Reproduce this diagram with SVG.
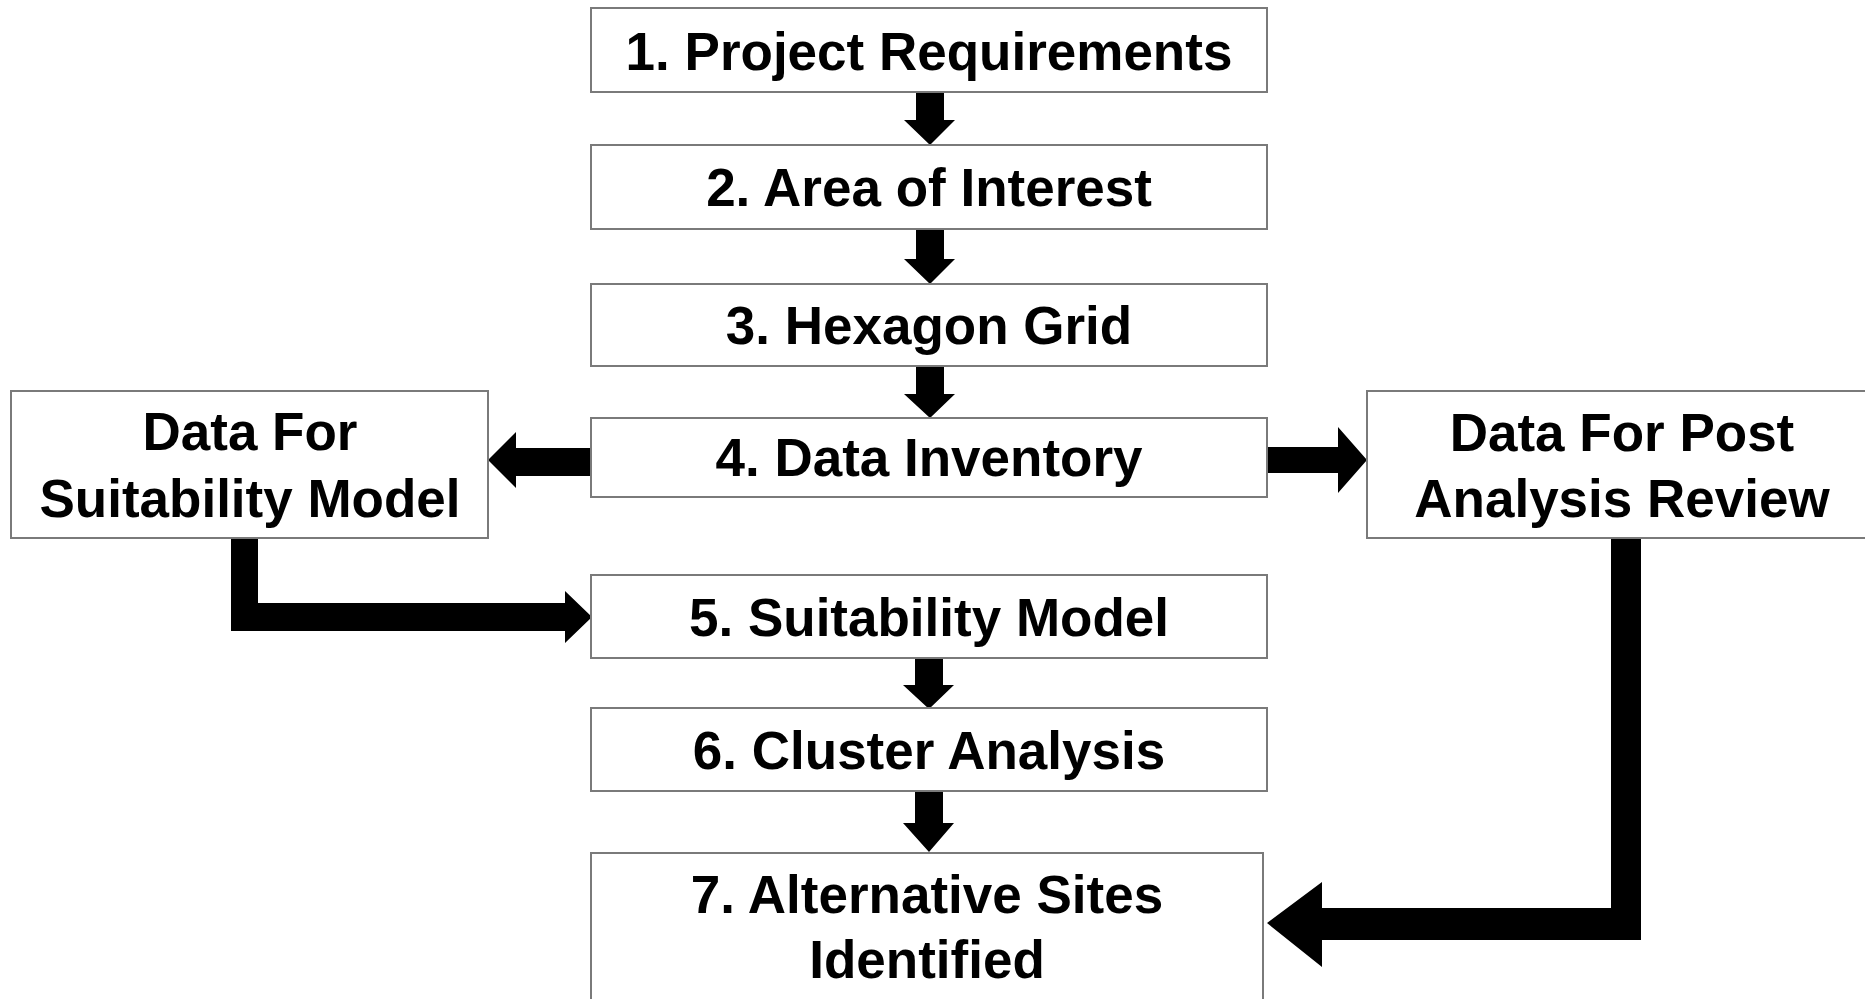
<svg xmlns="http://www.w3.org/2000/svg" width="1865" height="999" viewBox="0 0 1865 999">
<style>
.box{fill:#fff;stroke:#7a7a7a;stroke-width:2}
.lbl{font-family:"Liberation Sans",Arial,sans-serif;font-weight:bold;font-size:53px;fill:#000;text-anchor:middle}
.arr{fill:#000;stroke:none}
</style>
<rect width="1865" height="999" fill="#fff"/>
<g id="connectors">
<polygon class="arr" points="916,92 944,92 944,120 955,120 930,145 904,120 916,120"/>
<polygon class="arr" points="916,229 944,229 944,259 955,259 930,284 904,259 916,259"/>
<polygon class="arr" points="916,366 944,366 944,394 955,394 930,418 904,394 916,394"/>
<polygon class="arr" points="915,658 943,658 943,685 954,685 929,709 903,685 915,685"/>
<polygon class="arr" points="915,791 943,791 943,823 954,823 929,852 903,823 915,823"/>
<polygon class="arr" points="591,448 516,448 516,432 488,460 516,488 516,476 591,476"/>
<polygon class="arr" points="1267,447 1338,447 1338,427 1367,460 1338,493 1338,473 1267,473"/>
<polygon class="arr" points="231,538 258,538 258,603 565,603 565,591 592,617 565,643 565,631 231,631"/>
<polygon class="arr" points="1611,538 1641,538 1641,940 1322,940 1322,967 1267,923 1322,882 1322,908 1611,908"/>
</g>
<g id="n1"><rect class="box" x="591" y="8" width="676" height="84"/><text class="lbl" x="929" y="70">1. Project Requirements</text></g>
<g id="n2"><rect class="box" x="591" y="145" width="676" height="84"/><text class="lbl" x="929" y="206">2. Area of Interest</text></g>
<g id="n3"><rect class="box" x="591" y="284" width="676" height="82"/><text class="lbl" x="929" y="344">3. Hexagon Grid</text></g>
<g id="n4"><rect class="box" x="591" y="418" width="676" height="79"/><text class="lbl" x="929" y="476">4. Data Inventory</text></g>
<g id="n5"><rect class="box" x="591" y="575" width="676" height="83"/><text class="lbl" x="929" y="636">5. Suitability Model</text></g>
<g id="n6"><rect class="box" x="591" y="708" width="676" height="83"/><text class="lbl" x="929" y="769">6. Cluster Analysis</text></g>
<g id="n7"><rect class="box" x="591" y="853" width="672" height="160"/><text class="lbl" x="927" y="913">7. Alternative Sites</text><text class="lbl" x="927" y="978">Identified</text></g>
<g id="nL"><rect class="box" x="11" y="391" width="477" height="147"/><text class="lbl" x="250" y="450">Data For</text><text class="lbl" x="250" y="517">Suitability Model</text></g>
<g id="nR"><rect class="box" x="1367" y="391" width="512" height="147"/><text class="lbl" x="1622" y="451">Data For Post</text><text class="lbl" x="1622" y="517">Analysis Review</text></g>
</svg>
